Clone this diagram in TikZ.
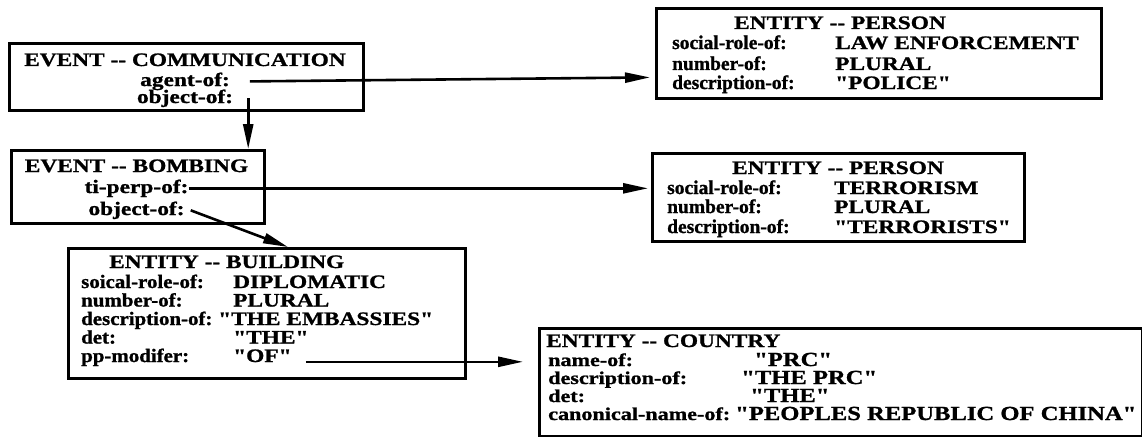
\documentclass[tikz,border=0pt]{standalone}
\usepackage{fontspec}
\newfontfamily\wfont[FakeStretch=1.23,BoldFeatures={FakeStretch=1.23,FakeBold=1.1}]{Liberation Serif}
\newfontfamily\nfont[BoldFeatures={FakeBold=1.1}]{Liberation Serif}
\newfontfamily\mfont[FakeStretch=1.1,BoldFeatures={FakeStretch=1.1,FakeBold=1.1}]{Liberation Serif}
\usetikzlibrary{arrows.meta,calc}
\begin{document}
\begin{tikzpicture}[x=1pt,y=-1pt,
  box/.style={draw, line width=2.6pt, inner sep=0pt, anchor=north west},
  txt/.style={inner sep=0pt, font=\wfont\bfseries\fontsize{19}{21}\selectfont},
  ntxt/.style={inner sep=0pt, font=\nfont\bfseries\fontsize{19.5}{21}\selectfont},
  lab/.style={txt, anchor=base west},
  nlab/.style={ntxt, anchor=base west},
  blab/.style={nlab, font=\mfont\bfseries\fontsize{19}{21}\selectfont},
  clab/.style={lab, font=\wfont\bfseries\fontsize{18}{20}\selectfont},
  cval/.style={lab, font=\wfont\bfseries\fontsize{20}{22}\selectfont},
  ctr/.style={txt, anchor=base},
  arr/.style={line width=2.6pt, -{Triangle[length=25pt,width=10pt]}}]
\useasboundingbox[fill=white] (0,0) rectangle (1142,436);

% boxes
\node[box, minimum width=354pt, minimum height=67pt] (b1) at (8,42) {};
\node[box, minimum width=253pt, minimum height=73pt] (b2) at (10,149) {};
\node[box, minimum width=445pt, minimum height=90pt] (p1) at (655,7) {};
\node[box, minimum width=372pt, minimum height=88pt] (p2) at (651,152) {};
\node[box, minimum width=397pt, minimum height=130pt] (b3) at (67,247) {};
\node[box, minimum width=603pt, minimum height=108pt] (b4) at (538,327) {};

% EVENT -- COMMUNICATION
\node[ctr] (c1t) at (185,66) {EVENT -{}- COMMUNICATION};
\node[ctr] (agent) at (185,86) {agent-of:};
\node[ctr] (obj1) at (185,103) {object-of:};

% EVENT -- BOMBING
\node[ctr] (c2t) at (136.5,172) {EVENT -{}- BOMBING};
\node[ctr] (tiperp) at (136.5,193) {ti-perp-of:};
\node[ctr] (obj2) at (136.5,215) {object-of:};

% ENTITY -- PERSON (police)
\node[ctr] (p1t) at (840,29) {ENTITY -{}- PERSON};
\node[nlab] (p1l1) at (672,49) {social-role-of:};
\node[nlab] (p1l2) at (672,70) {number-of:};
\node[nlab] (p1l3) at (672,89) {description-of:};
\node[lab] (p1v1) at (835,49) {LAW ENFORCEMENT};
\node[lab] (p1v2) at (835,70) {PLURAL};
\node[lab] (p1v3) at (835,89) {"POLICE"};

% ENTITY -- PERSON (terrorists)
\node[ctr] (p2t) at (838,174) {ENTITY -{}- PERSON};
\node[nlab] (p2l1) at (667,194) {social-role-of:};
\node[nlab] (p2l2) at (667,213) {number-of:};
\node[nlab] (p2l3) at (667,233) {description-of:};
\node[lab] (p2v1) at (834,194) {TERRORISM};
\node[lab] (p2v2) at (834,213) {PLURAL};
\node[lab] (p2v3) at (834,233) {"TERRORISTS"};

% ENTITY -- BUILDING
\node[lab] (b3t) at (109,268) {ENTITY -{}- BUILDING};
\node[blab] (b3l1) at (81,288) {soical-role-of:};
\node[blab] (b3l2) at (81,306.5) {number-of:};
\node[blab] (b3l3) at (81,325) {description-of:};
\node[blab] (b3l4) at (81,343.5) {det:};
\node[blab] (b3l5) at (81,362) {pp-modifer:};
\node[lab] (b3v1) at (233,288) {DIPLOMATIC};
\node[lab] (b3v2) at (233,306.5) {PLURAL};
\node[lab] (b3v3) at (218,325) {"THE EMBASSIES"};
\node[lab] (b3v4) at (233,343.5) {"THE"};
\node[lab] (ofv) at (233,362) {"OF"};

% ENTITY -- COUNTRY
\node[lab] (b4t) at (546,347) {ENTITY -{}- COUNTRY};
\node[clab] (b4l1) at (548,366) {name-of:};
\node[clab] (b4l2) at (548,384) {description-of:};
\node[clab] (b4l3) at (548,402) {det:};
\node[clab] (b4l4) at (548,420) {canonical-name-of:};
\node[cval] (b4v1) at (754,366) {"PRC"};
\node[cval] (b4v2) at (741,384) {"THE PRC"};
\node[cval] (b4v3) at (750,402) {"THE"};
\node[cval] (b4v4) at (735,420) {"PEOPLES REPUBLIC OF CHINA"};

% connectors
\draw[arr] ([xshift=20pt]agent.east) -- ($(agent.east -| p1.west)+(-5,-4)$);
\draw[arr] ([xshift=15pt]obj1.east) -- ([xshift=15pt]obj1.east |- b2.north);
\draw[arr] (tiperp.east) -- ($(tiperp.east -| p2.west)+(-3,0)$);
\draw[arr] ([xshift=6pt]obj2.east) -- ([xshift=221pt]b3.north west);
\draw[arr] ($(ofv.east)+(14,6)$) -- ($(ofv.east -| b4.west)+(-15,6)$);
\end{tikzpicture}
\end{document}
